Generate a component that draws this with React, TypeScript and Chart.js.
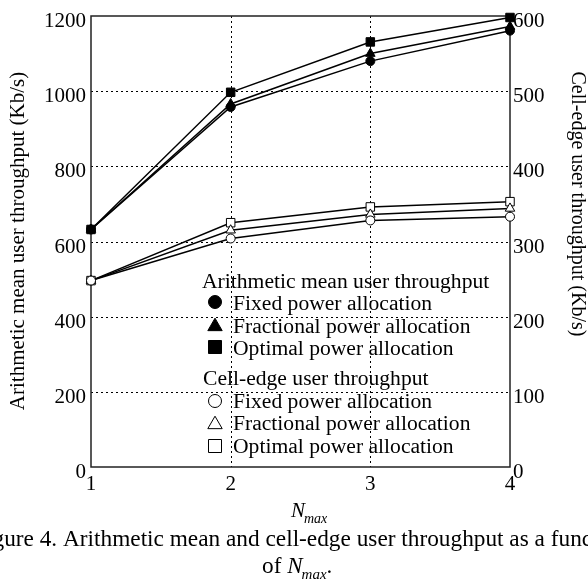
import { useEffect, useRef } from "react";
import { Chart, registerables } from "chart.js";

Chart.register(...registerables);

const nmax = [1, 2, 3, 4];
const meanFixed = [632, 958, 1080, 1161];
const meanFractional = [632, 966, 1100, 1172];
const meanOptimal = [632, 997, 1131, 1196];
const edgeFixed = [248, 304, 328, 333];
const edgeFractional = [248, 315, 336, 344];
const edgeOptimal = [248, 325, 346, 353];
const leftTicks = [0, 200, 400, 600, 800, 1000, 1200];
const rightTicks = [0, 100, 200, 300, 400, 500, 600];
const xTicks = [1, 2, 3, 4];

const leftTitle = "Arithmetic mean user throughput (Kb/s)";
const rightTitle = "Cell-edge user throughput (Kb/s)";
const legendHeader1 = "Arithmetic mean user throughput";
const legendHeader2 = "Cell-edge user throughput";
const legendItems = ["Fixed power allocation", "Fractional power allocation", "Optimal power allocation"];
const captionLine1 = "Figure 4. Arithmetic mean and cell-edge user throughput as a function";

const FONT = "'Liberation Serif', 'Times New Roman', serif";

function drawMarker(ctx: CanvasRenderingContext2D, kind: string, x: number, y: number, filled: boolean) {
  ctx.save();
  ctx.beginPath();
  if (kind === "circle") {
    ctx.arc(x, y, 6.5, 0, Math.PI * 2);
  } else if (kind === "triangle") {
    const r = 8.3;
    for (let i = 0; i < 3; i++) {
      const a = (i * 2 * Math.PI) / 3;
      const px = x + Math.sin(a) * r;
      const py = y + 1.5 - Math.cos(a) * r;
      if (i === 0) ctx.moveTo(px, py);
      else ctx.lineTo(px, py);
    }
    ctx.closePath();
  } else {
    ctx.rect(x - 6.5, y - 6.5, 13, 13);
  }
  ctx.lineWidth = 1;
  ctx.strokeStyle = "#000";
  ctx.fillStyle = filled ? "#000" : "#fff";
  ctx.fill();
  ctx.stroke();
  ctx.restore();
}

const overlay = {
  id: "overlay",
  beforeDatasetsDraw(chart: any) {
    const { ctx, chartArea } = chart;
    const { left, top, right, bottom } = chartArea;
    const xs = chart.scales.x;
    const ys = chart.scales.y;
    ctx.save();
    ctx.strokeStyle = "#000";
    ctx.lineWidth = 1;
    ctx.setLineDash([2, 3]);
    leftTicks.forEach((v) => {
      if (v === 0 || v === 1200) return;
      const py = Math.round(ys.getPixelForValue(v)) + 0.5;
      ctx.beginPath();
      ctx.moveTo(left, py);
      ctx.lineTo(right, py);
      ctx.stroke();
    });
    xTicks.forEach((v) => {
      if (v === 1 || v === 4) return;
      const px = Math.round(xs.getPixelForValue(v)) + 0.5;
      ctx.beginPath();
      ctx.moveTo(px, top);
      ctx.lineTo(px, bottom);
      ctx.stroke();
    });
    ctx.setLineDash([]);
    ctx.strokeStyle = "#222";
    ctx.lineWidth = 1.5;
    ctx.strokeRect(left, top, right - left, bottom - top);
    ctx.restore();
  },
  afterDraw(chart: any) {
    const { ctx, chartArea } = chart;
    const { left, right, bottom } = chartArea;
    const xs = chart.scales.x;
    const ys = chart.scales.y;
    const y2 = chart.scales.y2;
    ctx.save();
    ctx.fillStyle = "#000";
    ctx.textBaseline = "alphabetic";
    ctx.font = `21px ${FONT}`;
    ctx.textAlign = "right";
    leftTicks.forEach((v) => ctx.fillText(String(v), left - 5, ys.getPixelForValue(v) + 11));
    ctx.textAlign = "left";
    rightTicks.forEach((v) => ctx.fillText(String(v), right + 3, y2.getPixelForValue(v) + 11));
    ctx.textAlign = "center";
    xTicks.forEach((v) => ctx.fillText(String(v), xs.getPixelForValue(v), bottom + 23));

    // axis titles
    ctx.save();
    ctx.translate(18, 241);
    ctx.rotate(-Math.PI / 2);
    ctx.textBaseline = "middle";
    ctx.textAlign = "center";
    ctx.font = `21px ${FONT}`;
    ctx.fillText(leftTitle, 0, 0);
    ctx.restore();

    ctx.save();
    ctx.translate(577, 204);
    ctx.rotate(Math.PI / 2);
    ctx.textBaseline = "middle";
    ctx.textAlign = "center";
    ctx.font = `20px ${FONT}`;
    ctx.fillText(rightTitle, 0, 0);
    ctx.restore();

    // x title N_max
    ctx.textAlign = "left";
    ctx.font = `italic 21px ${FONT}`;
    ctx.fillText("N", 291, bottom + 50);
    const nW = ctx.measureText("N").width;
    ctx.font = `italic 14px ${FONT}`;
    ctx.fillText("max", 291 + nW - 1, bottom + 56);

    // legend
    ctx.font = `21.6px ${FONT}`;
    ctx.fillText(legendHeader1, 202, 288);
    const kinds = ["circle", "triangle", "rect"];
    const base1 = [310, 333, 355];
    const base2 = [408, 430, 453];
    legendItems.forEach((t, i) => {
      drawMarker(ctx, kinds[i], 215, base1[i] - 8, true);
      ctx.fillText(t, 233, base1[i]);
    });
    ctx.fillText(legendHeader2, 203, 385);
    legendItems.forEach((t, i) => {
      drawMarker(ctx, kinds[i], 215, base2[i] - 7, false);
      ctx.fillText(t, 233, base2[i]);
    });

    // caption
    ctx.font = `23.3px ${FONT}`;
    const pre = ctx.measureText("Figure 4. ").width;
    ctx.fillText(captionLine1, 63 - pre, 546);
    let cx = 262;
    ctx.fillText("of ", cx, 573);
    cx += ctx.measureText("of ").width;
    ctx.font = `italic 23px ${FONT}`;
    ctx.fillText("N", cx, 573);
    cx += ctx.measureText("N").width - 1;
    ctx.font = `italic 15px ${FONT}`;
    ctx.fillText("max", cx, 579);
    cx += ctx.measureText("max").width;
    ctx.font = `23px ${FONT}`;
    ctx.fillText(".", cx, 573);
    ctx.restore();
  },
};

function series(values: number[], axis: string, style: string, filled: boolean) {
  const radius = style === "circle" ? 4.5 : style === "rect" ? 6 : 5.5;
  return {
    data: nmax.map((n, i) => ({ x: n, y: values[i] })),
    yAxisID: axis,
    borderColor: "#000",
    borderWidth: 1.5,
    pointStyle: style,
    pointRadius: radius,
    pointBorderWidth: 1,
    pointBorderColor: "#000",
    pointBackgroundColor: filled ? "#000" : "#fff",
    fill: false,
    tension: 0,
    clip: false as any,
  };
}

export default function App() {
  const ref = useRef<HTMLCanvasElement | null>(null);
  useEffect(() => {
    document.body.style.margin = "0";
    if (!ref.current) return;
    const chart = new Chart(ref.current, {
      type: "line",
      data: {
        datasets: [
          series(meanFixed, "y", "circle", true),
          series(meanFractional, "y", "triangle", true),
          series(meanOptimal, "y", "rect", true),
          series(edgeFixed, "y2", "circle", false),
          series(edgeFractional, "y2", "triangle", false),
          series(edgeOptimal, "y2", "rect", false),
        ] as any,
      },
      options: {
        animation: false,
        responsive: false,
        layout: { padding: { left: 91, right: 78, top: 16, bottom: 116 } },
        plugins: { legend: { display: false }, tooltip: { enabled: false } },
        scales: {
          x: { type: "linear", min: 1, max: 4, display: false },
          y: { type: "linear", min: 0, max: 1200, display: false },
          y2: { type: "linear", min: 0, max: 600, display: false, position: "right" },
        },
      },
      plugins: [overlay],
    });
    return () => chart.destroy();
  }, []);
  return <canvas ref={ref} width={588} height={583} style={{ display: "block", width: 588, height: 583 }} />;
}
